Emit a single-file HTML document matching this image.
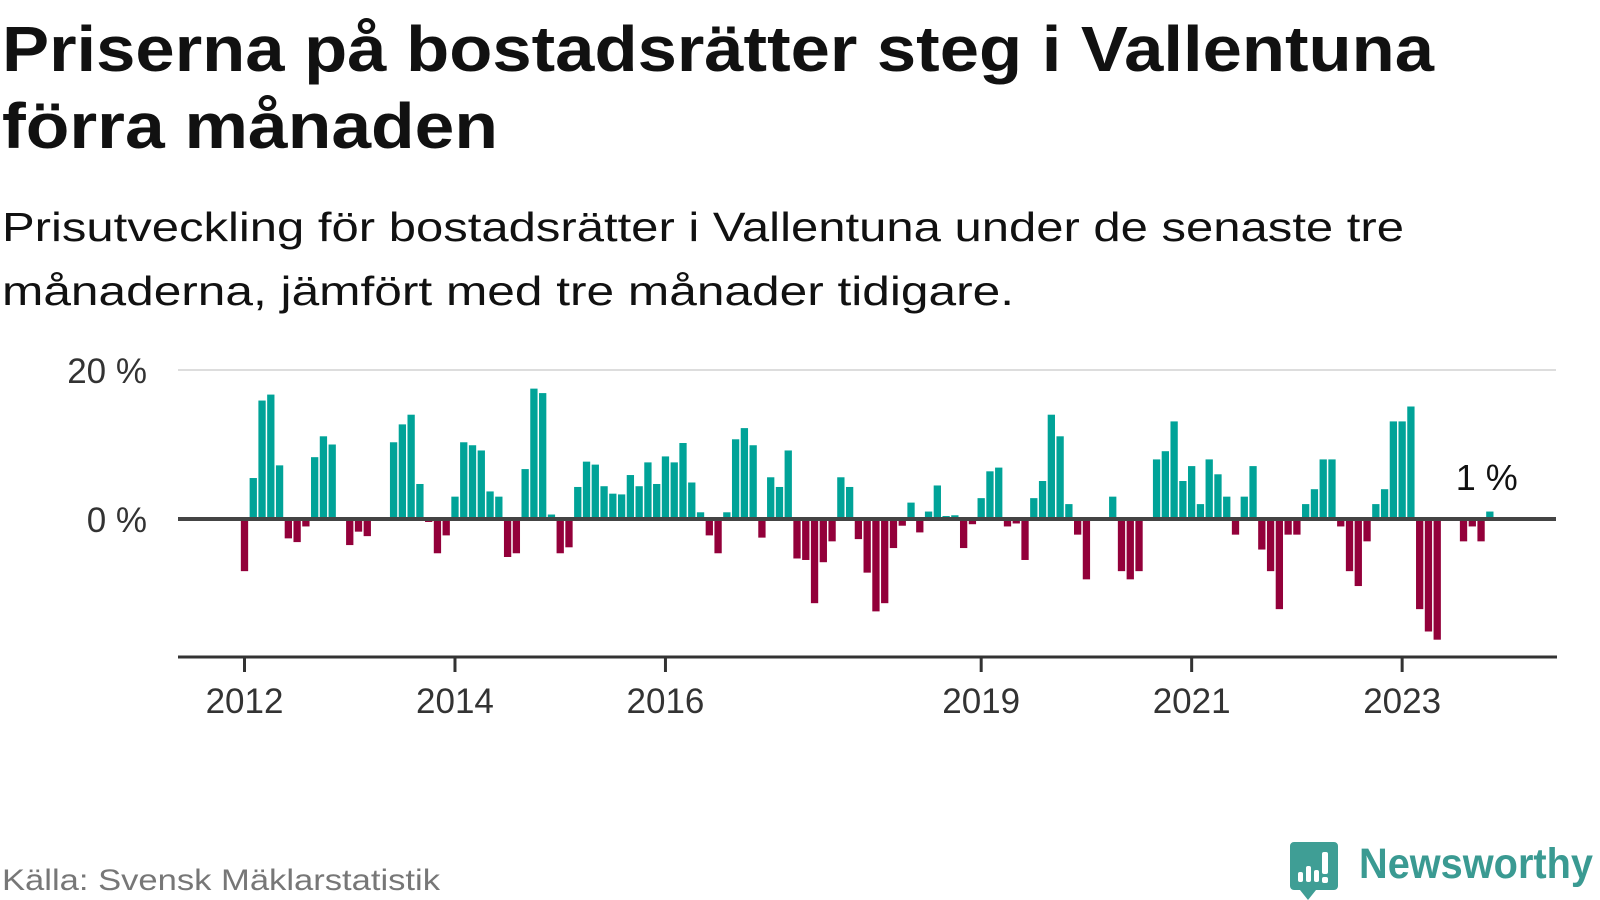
<!DOCTYPE html>
<html><head><meta charset="utf-8"><style>
html,body{margin:0;padding:0;background:#fff;}
svg{display:block;font-family:"Liberation Sans",sans-serif;}
</style></head><body>
<svg id="chart" width="1600" height="900" viewBox="0 0 1600 900" xmlns="http://www.w3.org/2000/svg">
<text x="2" y="71" font-size="64" font-weight="bold" fill="#111" textLength="1432" lengthAdjust="spacingAndGlyphs">Priserna på bostadsrätter steg i Vallentuna</text>
<text x="2" y="148" font-size="64" font-weight="bold" fill="#111" textLength="496" lengthAdjust="spacingAndGlyphs">förra månaden</text>
<text x="2" y="241" font-size="41" fill="#111" textLength="1402" lengthAdjust="spacingAndGlyphs">Prisutveckling för bostadsrätter i Vallentuna under de senaste tre</text>
<text x="2" y="305" font-size="41" fill="#111" textLength="1012" lengthAdjust="spacingAndGlyphs">månaderna, jämfört med tre månader tidigare.</text>
<g id="plot"></g>
<text x="2" y="890" font-size="30" fill="#777" textLength="438" lengthAdjust="spacingAndGlyphs">Källa: Svensk Mäklarstatistik</text>
<g>
<path d="M1294 842 h40 a4 4 0 0 1 4 4 v40 a4 4 0 0 1 -4 4 h-18 l-8 10 l-8 -10 h-6 a4 4 0 0 1 -4 -4 v-40 a4 4 0 0 1 4 -4z" fill="#3f9e95"/>
<rect x="1298" y="872" width="5" height="10" rx="2" fill="#fff"/>
<rect x="1306" y="866" width="5" height="16" rx="2" fill="#fff"/>
<rect x="1314" y="870" width="5" height="12" rx="2" fill="#fff"/>
<rect x="1322" y="852" width="6" height="22" rx="2" fill="#fff"/>
<rect x="1322" y="877" width="6" height="6" rx="2" fill="#fff"/>
<text x="1359" y="878" font-size="43" font-weight="bold" fill="#3a9a92" textLength="234" lengthAdjust="spacingAndGlyphs">Newsworthy</text>
</g>
</svg>
<script>
const months = 143; // Jan 2012 .. Nov 2023
const values = [
-7.0,5.5,15.9,16.7,7.2,-2.6,-3.1,-1.0,8.3,11.1,10.0,0,
-3.5,-1.7,-2.3,0,0,10.3,12.7,14.0,4.7,-0.4,-4.6,-2.2,
3.0,10.3,9.9,9.2,3.7,3.0,-5.1,-4.6,6.7,17.5,16.9,0.6,
-4.6,-3.8,4.3,7.7,7.3,4.4,3.4,3.3,5.9,4.4,7.6,4.7,
8.4,7.6,10.2,4.9,0.9,-2.2,-4.6,0.9,10.7,12.2,9.9,-2.5,
5.6,4.3,9.2,-5.3,-5.5,-11.3,-5.8,-3.0,5.6,4.3,-2.7,-7.2,
-12.4,-11.3,-3.9,-0.9,2.2,-1.8,1.0,4.5,0.4,0.5,-3.9,-0.7,
2.8,6.4,6.9,-1.0,-0.6,-5.5,2.8,5.1,14.0,11.1,2.0,-2.1,
-8.1,0,0,3.0,-7.0,-8.1,-7.0,0,8.0,9.1,13.1,5.1,
7.1,2.0,8.0,6.0,3.0,-2.1,3.0,7.1,-4.1,-7.0,-12.1,-2.1,
-2.1,2.0,4.0,8.0,8.0,-1.0,-7.0,-9.0,-3.0,2.0,4.0,13.1,
13.1,15.1,-12.1,-15.1,-16.2,0,0,-3.0,-1.0,-3.0,1.0
];
const yTicks = [0, 20];
const yTickLabels = ["0 %", "20 %"];
const xTickYears = [2012, 2014, 2016, 2019, 2021, 2023];
const lastLabel = "1 %";

const NS = "http://www.w3.org/2000/svg";
const plot = document.getElementById("plot");
const x0 = 244.5, step = 8.77, bw = 7.3;
const zeroY = 519, pxPer = 7.45;
function xScale(i){ return x0 + i*step; }
function yScale(v){ return zeroY - v*pxPer; }
function mk(tag, attrs){ const e=document.createElementNS(NS,tag); for(const k in attrs) e.setAttribute(k,attrs[k]); plot.appendChild(e); return e; }

yTicks.forEach((t,j)=>{
  if(t!==0){
    const g = mk("line",{x1:178,x2:1556,y1:yScale(t),y2:yScale(t),stroke:"#ddd","stroke-width":2});
    
    
  }
  const tx = mk("text",{x:147,y:yScale(t)+13,"font-size":35,fill:"#333","text-anchor":"end"});
  tx.textContent = yTickLabels[j];
  
  
});

values.forEach((v,i)=>{
  if(v===0) return;
  const top = Math.min(yScale(v), zeroY), h = Math.abs(yScale(v)-zeroY);
  const r = mk("rect",{x:xScale(i)-bw/2,y:top,width:bw,height:h,fill:v>0?"#00a398":"#93003a"});
  
  
});

const zl = mk("line",{x1:178,x2:1556,y1:zeroY,y2:zeroY,stroke:"#444","stroke-width":4});



const ax = mk("line",{x1:178,x2:1557,y1:657,y2:657,stroke:"#333","stroke-width":3});



xTickYears.forEach(yr=>{
  const xi = xScale((yr-2012)*12);
  const tk = mk("line",{x1:xi,x2:xi,y1:657,y2:672,stroke:"#333","stroke-width":3});
  
  
  const tl = mk("text",{x:xi,y:713,"font-size":35,fill:"#333","text-anchor":"middle"});
  tl.textContent = String(yr);
  
  
});

const ll = mk("text",{x:xScale(months-1)+28,y:490,"font-size":36,fill:"#111","text-anchor":"end"});
ll.textContent = lastLabel;


</script>
</body></html>
